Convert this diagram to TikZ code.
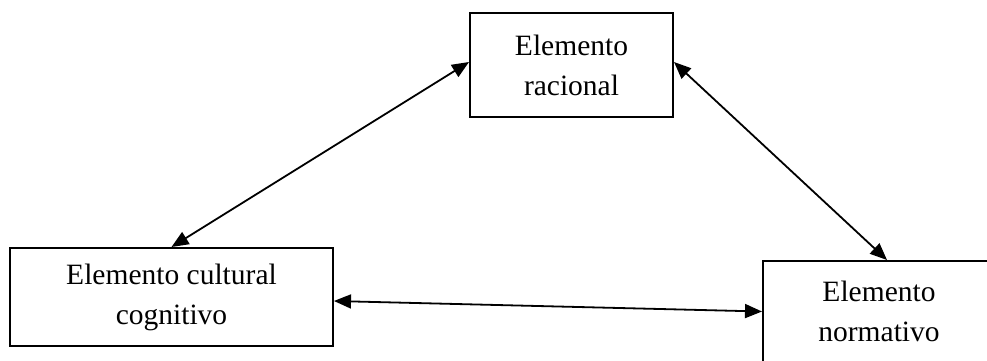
\documentclass[tikz,border=0pt]{standalone}
\usepackage{fontspec}
\setmainfont{Liberation Serif}
\usetikzlibrary{arrows.meta}
\begin{document}
\begin{tikzpicture}[x=1pt,y=-1pt,
  elbox/.style={draw, line width=2pt, rectangle, align=center, inner sep=0pt,
    font=\fontsize{29.5}{40}\selectfont},
  link/.style={line width=1.8pt, {Triangle[length=17pt,width=14pt]}-{Triangle[length=17pt,width=14pt]}}]
\useasboundingbox (0,0) rectangle (987,360);
\clip (0,0) rectangle (987,360);
\node[elbox, minimum width=203pt, minimum height=104pt] (rac) at (571.5,65) {Elemento\\racional};
\node[elbox, minimum width=323pt, minimum height=98pt] (cul) at (171.5,297) {Elemento cultural\\cognitivo};
\node[elbox, minimum width=232pt, minimum height=101pt] (nor) at (879,311.5) {Elemento\\normativo};
\draw[link] ([yshift=3pt]rac.west) -- (cul.north);
\draw[link] ([yshift=3pt]rac.east) -- ([xshift=8pt]nor.north);
\draw[link] ([yshift=-4pt]cul.east) -- (nor.west);
\end{tikzpicture}
\end{document}
